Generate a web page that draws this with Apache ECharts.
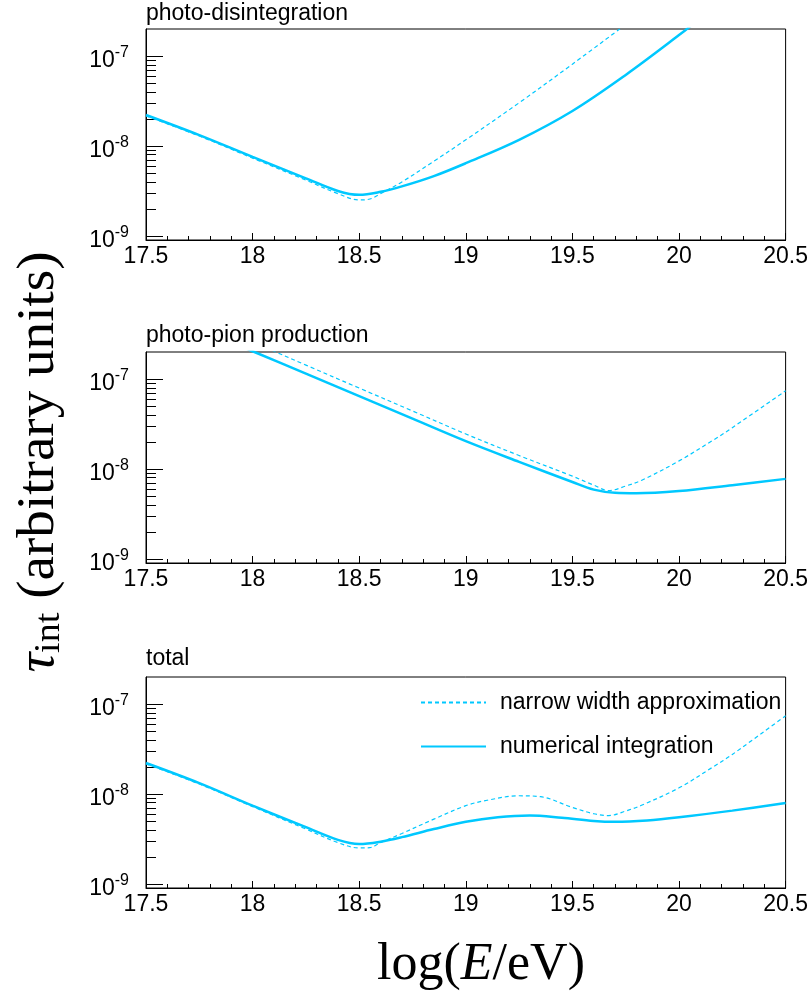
<!DOCTYPE html>
<html><head><meta charset="utf-8">
<script src="https://cdn.jsdelivr.net/npm/echarts@6/dist/echarts.min.js"></script>
<style>html,body{margin:0;padding:0;background:#fff}#c{width:811px;height:992px}</style>
</head><body><div id="c"></div>
<script>
// ---- data (tau_int in arbitrary units vs log(E/eV)) ----
const panelTitles = ['photo-disintegration', 'photo-pion production', 'total'];
const seriesNames = ['narrow width approximation', 'numerical integration'];
const xMin = 17.5, xMax = 20.5, xStep = 0.5;
const yDecades = [-9, -8, -7];
const yMinVal = 0.9e-9, yMaxVal = 2e-7;

// photo-disintegration
const E_pd_num   = [17.5, 17.75, 18, 18.25, 18.4, 18.5, 18.6, 18.7, 18.85, 19, 19.25, 19.5, 19.75, 20, 20.1];
const tau_pd_num = [2.21e-8, 1.32e-8, 7.55e-9, 4.37e-9, 3.16e-9, 2.86e-9, 3.09e-9, 3.55e-9, 4.62e-9, 6.43e-9, 1.17e-8, 2.45e-8, 6.17e-8, 1.71e-7, 2.63e-7];
const E_pd_nwa   = [17.5, 17.75, 18, 18.25, 18.4, 18.5, 18.55, 18.6, 18.7, 18.85, 19, 19.25, 19.5, 19.75];
const tau_pd_nwa = [2.16e-8, 1.29e-8, 7.33e-9, 4.17e-9, 2.95e-9, 2.51e-9, 2.57e-9, 2.95e-9, 3.98e-9, 6.76e-9, 1.17e-8, 3.02e-8, 8.13e-8, 2.24e-7];

// photo-pion production
const E_pp_num   = [17.9, 18, 18.25, 18.5, 18.75, 19, 19.25, 19.5, 19.6, 19.7, 19.8, 20, 20.25, 20.5];
const tau_pp_num = [2.57e-7, 2.04e-7, 1.15e-7, 6.46e-8, 3.63e-8, 2.04e-8, 1.2e-8, 7.16e-9, 5.89e-9, 5.43e-9, 5.37e-9, 5.69e-9, 6.61e-9, 7.76e-9];
const E_pp_nwa   = [18.0, 18.1, 18.25, 18.5, 18.75, 19, 19.25, 19.5, 19.6, 19.67, 19.75, 19.83, 20, 20.16, 20.25, 20.5];
const tau_pp_nwa = [2.57e-7, 2.04e-7, 1.43e-7, 7.94e-8, 4.42e-8, 2.45e-8, 1.41e-8, 8.32e-9, 6.61e-9, 5.75e-9, 6.46e-9, 7.59e-9, 1.23e-8, 2.09e-8, 2.88e-8, 7.41e-8];

// total
const E_tot_num   = [17.5, 17.75, 18, 18.25, 18.4, 18.5, 18.6, 18.7, 18.85, 19, 19.15, 19.3, 19.45, 19.6, 19.7, 19.85, 20, 20.25, 20.5];
const tau_tot_num = [2.21e-8, 1.32e-8, 7.41e-9, 4.27e-9, 3.09e-9, 2.78e-9, 2.95e-9, 3.31e-9, 4.07e-9, 4.9e-9, 5.5e-9, 5.75e-9, 5.43e-9, 5.01e-9, 4.9e-9, 5.07e-9, 5.5e-9, 6.53e-9, 7.94e-9];
const E_tot_nwa   = [17.5, 17.75, 18, 18.25, 18.4, 18.5, 18.55, 18.6, 18.7, 18.85, 19, 19.1, 19.25, 19.35, 19.5, 19.6, 19.67, 19.75, 19.83, 20, 20.16, 20.25, 20.5];
const tau_tot_nwa = [2.16e-8, 1.29e-8, 7.24e-9, 4.07e-9, 2.88e-9, 2.51e-9, 2.53e-9, 2.88e-9, 3.63e-9, 5.25e-9, 7.41e-9, 8.51e-9, 9.55e-9, 9.33e-9, 7.08e-9, 6.03e-9, 5.75e-9, 6.46e-9, 7.59e-9, 1.17e-8, 2.0e-8, 2.75e-8, 7.41e-8];

const panelData = [
  [[E_pd_nwa, tau_pd_nwa], [E_pd_num, tau_pd_num]],
  [[E_pp_nwa, tau_pp_nwa], [E_pp_num, tau_pp_num]],
  [[E_tot_nwa, tau_tot_nwa], [E_tot_num, tau_tot_num]]
];

// ---- chart ----
const COLOR = '#00c8ff';
const SANS = 'Liberation Sans, Helvetica, Arial, sans-serif';
const SERIF = 'Liberation Serif, Times New Roman, serif';
const yMin = Math.log10(yMinVal), yMax = Math.log10(yMaxVal);
const minorVals = [];
for (let n = -10; n <= -7; n++) for (let k = 2; k <= 9; k++) {
  const v = Math.log10(k) + n;
  if (v > yMin && v < yMax) minorVals.push(v);
}
const gridTops = [29, 352, 677];
const titleTops = [2.5, 324.5, 647.5];

const grid = [], xAxis = [], yAxis = [], series = [], title = [];
gridTops.forEach((t, i) => {
  grid.push({ left: 146, width: 640, top: t, height: 211, show: true, borderColor: '#000', borderWidth: 1, backgroundColor: 'transparent' });
  title.push({ text: panelTitles[i], left: 146, top: titleTops[i], padding: 0,
    textStyle: { fontFamily: SANS, fontSize: 23, fontWeight: 'normal', color: '#000', lineHeight: 23 } });
  xAxis.push({ type: 'value', gridIndex: i, min: xMin, max: xMax, interval: xStep,
    axisLine: { show: true, lineStyle: { color: '#000', width: 1 } },
    axisTick: { show: true, inside: true, length: 7, lineStyle: { color: '#000', width: 1 } },
    minorTick: { show: true, splitNumber: 5, length: 4, lineStyle: { color: '#000', width: 1 } },
    splitLine: { show: false },
    axisLabel: { fontFamily: SANS, fontSize: 23, lineHeight: 23, color: '#000', margin: 5 } });
  yAxis.push({ type: 'value', gridIndex: i, position: 'left', min: yMin, max: yMax,
    axisLine: { show: true, lineStyle: { color: '#000', width: 1 } },
    axisTick: { show: true, inside: true, length: 17, customValues: yDecades, lineStyle: { color: '#000', width: 1 } },
    splitLine: { show: false },
    axisLabel: { customValues: yDecades, margin: 17, align: 'right',
      formatter: v => '{b|10}{s|' + Math.round(v) + '}',
      rich: {
        b: { fontFamily: SANS, fontSize: 23, lineHeight: 23, color: '#000', padding: [9, 0, 0, 0] },
        s: { fontFamily: SANS, fontSize: 16, lineHeight: 16, color: '#000', verticalAlign: 'top' }
      } } });
  yAxis.push({ type: 'value', gridIndex: i, position: 'left', min: yMin, max: yMax,
    axisLine: { show: false },
    axisTick: { show: true, inside: true, length: 10, customValues: minorVals, lineStyle: { color: '#000', width: 1 } },
    splitLine: { show: false },
    axisLabel: { show: false } });
  panelData[i].forEach((d, j) => {
    const [xs, ys] = d;
    series.push({
      name: seriesNames[j], type: 'line', xAxisIndex: i, yAxisIndex: 2 * i,
      data: xs.map((x, k) => [x, Math.log10(ys[k])]),
      symbol: 'none', showSymbol: false, smooth: 0.35, clip: true,
      lineStyle: j === 0 ? { color: COLOR, width: 1.2, type: [4, 3] } : { color: COLOR, width: 2.5 },
      itemStyle: { color: COLOR },
      z: j === 0 ? 3 : 2
    });
  });
});

const option = {
  animation: false,
  backgroundColor: '#fff',
  title, grid, xAxis, yAxis, series,
  legend: {
    data: seriesNames, orient: 'vertical', left: 420, top: 691, itemWidth: 65, itemHeight: 14, itemGap: 21,
    padding: 0, selectedMode: false,
    itemStyle: { opacity: 0, borderWidth: 0 },
    textStyle: { fontFamily: SANS, fontSize: 23, color: '#000', padding: [0, 0, 0, 9] }
  },
  graphic: [
    { type: 'text', x: 481, y: 965,
      style: { text: '{n|log(}{i|E}{n|/eV)}', align: 'center', verticalAlign: 'middle',
        rich: { n: { fontFamily: SERIF, fontSize: 52, fill: '#000' }, i: { fontFamily: SERIF, fontSize: 52, fontStyle: 'italic', fill: '#000' } } } },
    { type: 'text', x: 42, y: 462, rotation: Math.PI / 2, scaleX: 1.06,
      style: { text: '{t|τ}{s|int}{n| (arbitrary units)}', align: 'center', verticalAlign: 'middle',
        rich: {
          t: { fontFamily: SERIF, fontSize: 52, lineHeight: 52, fontStyle: 'italic', fill: '#000', padding: [0, 0, 5, 0] },
          s: { fontFamily: SERIF, fontSize: 36, lineHeight: 36, fill: '#000', verticalAlign: 'bottom' },
          n: { fontFamily: SERIF, fontSize: 52, lineHeight: 52, fill: '#000', padding: [0, 0, 5, 0] }
        } } }
  ]
};
const chart = echarts.init(document.getElementById('c'), null, { renderer: 'canvas' });
chart.setOption(option);
</script></body></html>
